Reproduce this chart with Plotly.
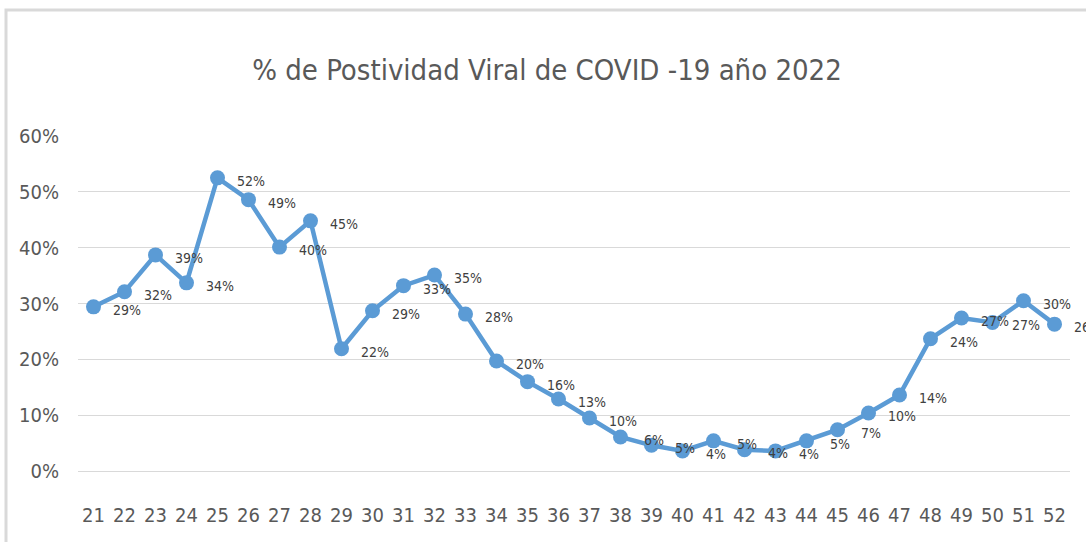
import plotly.graph_objects as go

weeks = [str(w) for w in range(21, 53)]
positivity = [0.294, 0.321, 0.387, 0.337, 0.525, 0.486, 0.401, 0.448, 0.219, 0.287,
              0.332, 0.351, 0.281, 0.197, 0.160, 0.129, 0.095, 0.061, 0.046, 0.036,
              0.054, 0.038, 0.036, 0.054, 0.074, 0.104, 0.136, 0.237, 0.274, 0.266,
              0.305, 0.263]
y_ticks = [0, 0.1, 0.2, 0.3, 0.4, 0.5, 0.6]
y_tick_labels = ["0%", "10%", "20%", "30%", "40%", "50%", "60%"]
title_text = "% de Postividad Viral de COVID -19 año 2022"

FONT = "DejaVu Sans Condensed, Liberation Sans Narrow, sans-serif"
BLUE = "#5B9BD5"

fig = go.Figure()
fig.add_trace(go.Scatter(
    x=weeks, y=positivity, mode="lines+markers",
    line=dict(color=BLUE, width=4.5),
    marker=dict(color=BLUE, size=15),
    hoverinfo="x+y", showlegend=False,
))

annotations = []
for i, v in enumerate(positivity):
    annotations.append(dict(
        x=i, y=v, xref="x", yref="y", text=f"{round(v * 100)}%",
        showarrow=False, xshift=33, yshift=-3,
        font=dict(family=FONT, size=14, color="#404040"),
    ))

L, R, T, B = 78, 1070, 136, 471
W, H = 1086, 542
def px(x):
    return (x - L) / (R - L)
def py(y):
    return (B - y) / (B - T)

fig.update_layout(
    width=W, height=H,
    margin=dict(l=L, r=W - R, t=T, b=H - B, autoexpand=False),
    paper_bgcolor="white", plot_bgcolor="white",
    title=dict(text=title_text, x=547 / W, xref="container", xanchor="center",
               y=1 - 70 / H, yanchor="middle",
               font=dict(family=FONT, size=29, color="#595959")),
    xaxis=dict(type="category", range=[-0.5, len(weeks) - 0.5], automargin=False,
               showgrid=False, showline=False, zeroline=False, ticks="",
               tickfont=dict(family=FONT, size=20, color="#595959"),
               ticklabelstandoff=30),
    yaxis=dict(range=[0, 0.6], tickvals=y_ticks, ticktext=y_tick_labels, automargin=False,
               showgrid=True, gridcolor="#d9d9d9", gridwidth=1,
               zeroline=True, zerolinecolor="#d9d9d9", zerolinewidth=1,
               showline=False, ticks="",
               tickfont=dict(family=FONT, size=20, color="#595959"),
               ticklabelstandoff=18),
    annotations=annotations,
    shapes=[dict(type="path", xref="paper", yref="paper",
                 path=f"M {px(6)} {py(H + 5)} L {px(6)} {py(10)} L {px(W + 5)} {py(10)}",
                 line=dict(color="#d9d9d9", width=3))],
)

fig.write_html("out.html", config={"displayModeBar": False},
               post_script="document.body.style.margin='0';document.body.style.overflow='hidden';")
